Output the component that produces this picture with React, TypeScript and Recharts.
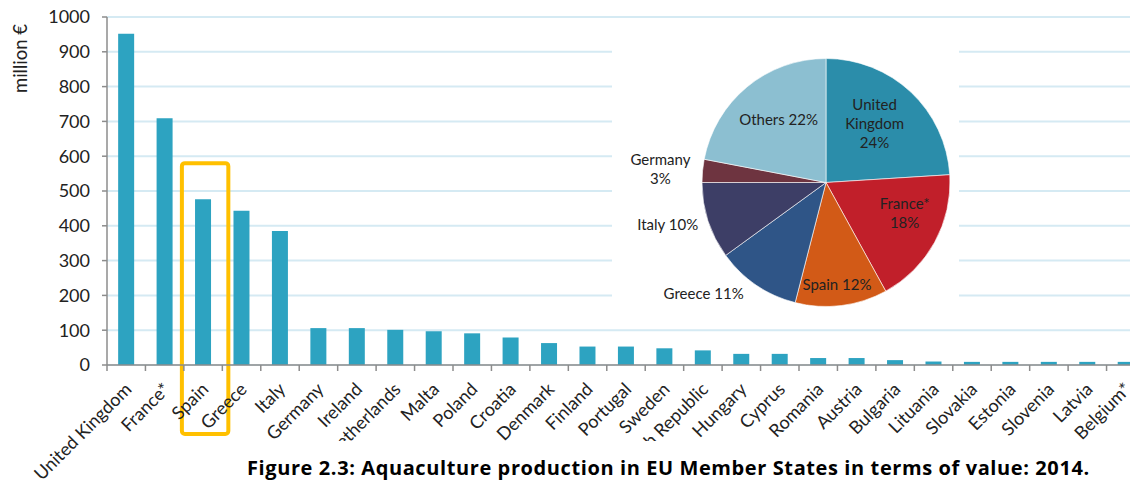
import { BarChart, Bar, XAxis, YAxis, CartesianGrid, ReferenceArea, PieChart, Pie, Cell } from 'recharts'

const countries = [
  'United Kingdom', 'France*', 'Spain', 'Greece', 'Italy', 'Germany', 'Ireland',
  'Netherlands', 'Malta', 'Poland', 'Croatia', 'Denmark', 'Finland', 'Portugal',
  'Sweden', 'Czech Republic', 'Hungary', 'Cyprus', 'Romania', 'Austria', 'Bulgaria',
  'Lituania', 'Slovakia', 'Estonia', 'Slovenia', 'Latvia', 'Belgium*'
]
const values = [
  952, 709, 476, 443, 385, 106, 106, 101, 97, 91, 79, 63, 53, 53,
  48, 42, 32, 32, 20, 20, 14, 10, 9, 9, 9, 9, 9
]
const yTicks = [0, 100, 200, 300, 400, 500, 600, 700, 800, 900, 1000]

const pieNames = ['United Kingdom', 'France*', 'Spain', 'Greece', 'Italy', 'Germany', 'Others']
const pieShares = [24, 18, 12, 11, 10, 3, 22]

const PIE_COLORS = ['#2B8DAA', '#C11F2A', '#D25A17', '#2F5587', '#3D3E66', '#6E3440', '#8CBFD1']
// per slice: label radius (x outerRadius), angle tweak (deg), percent on its own line
const PIE_LABEL = [
  { r: 0.62, da: 4, br: true, lines: ['United', 'Kingdom'] },
  { r: 0.68, da: 7.6, br: true, lines: ['France*'] },
  { r: 0.82, da: -1, br: false, lines: ['Spain'] },
  { r: 1.33, da: -13.7, br: false, lines: ['Greece'] },
  { r: 1.32, da: -3.3, br: false, lines: ['Italy'] },
  { r: 1.34, da: 0.4, br: true, lines: ['Germany'] },
  { r: 0.64, da: -2.9, br: false, lines: ['Others'] },
]

const barData = countries.map((name, i) => ({ name, value: values[i] }))
const pieData = pieNames.map((name, i) => ({ name, value: pieShares[i] }))

const FONT = 'Lato, "Open Sans", sans-serif'
const AXIS = '#8c8c8c'

const CountryTick = ({ x, y, payload }: any) => {
  const half = payload.offset ?? 0
  const ax = x + 2
  const ay = y + 21
  return (
    <g>
      <line x1={x - half} x2={x - half} y1={y} y2={y + 6} stroke={AXIS} strokeWidth={1.5} />
      <text
        x={ax}
        y={ay}
        textAnchor="end"
        dy="0.35em"
        transform={`rotate(-45 ${ax} ${ay})`}
        fontSize={18}
        fontFamily={FONT}
        fill="#222"
      >
        {payload.value}
      </text>
    </g>
  )
}

const renderPieLabel = (props: any) => {
  const { cx, cy, midAngle, outerRadius, index, value } = props
  const cfg = PIE_LABEL[index]
  const a = ((midAngle + cfg.da) * Math.PI) / 180
  const lx = cx + outerRadius * cfg.r * Math.cos(-a)
  const ly = cy + outerRadius * cfg.r * Math.sin(-a)
  const lines = cfg.br ? [...cfg.lines, `${value}%`] : [...cfg.lines.slice(0, -1), `${cfg.lines[cfg.lines.length - 1]} ${value}%`]
  const lh = 19
  const y0 = ly - ((lines.length - 1) * lh) / 2
  return (
    <text x={lx} y={y0} textAnchor="middle" dominantBaseline="central" fontSize={15} fontFamily={FONT} fill="#222">
      {lines.map((t, i) => (
        <tspan key={i} x={lx} y={y0 + i * lh}>{t}</tspan>
      ))}
    </text>
  )
}

const HighlightBox = (p: any) => (
  <rect
    x={p.x - 2}
    y={p.y}
    width={p.width + 8}
    height={p.height}
    rx={3}
    fill="none"
    stroke="#FFC000"
    strokeWidth={4}
  />
)

export default function App() {
  return (
    <div style={{ position: 'fixed', left: 0, top: 0, width: 1130, height: 481, overflow: 'hidden', background: '#fff', fontFamily: FONT }}>
      <BarChart width={1147} height={481} data={barData} margin={{ top: 17, right: 2, left: 0, bottom: 6 }} barCategoryGap="29%">
        <CartesianGrid vertical={false} stroke="#d5eaf3" strokeWidth={2} />
        <YAxis
          domain={[0, 1000]}
          ticks={yTicks}
          width={107}
          tickSize={5}
          tickMargin={12}
          stroke={AXIS}
          strokeWidth={1.5}
          tick={{ fontSize: 18, fill: '#222', fontFamily: FONT }}
          label={{
            content: ({ viewBox }: any) => (
              <text
                transform={`translate(${viewBox.x + 20} ${viewBox.y + 41.5}) rotate(-90)`}
                textAnchor="middle"
                dominantBaseline="central"
                fontSize={18.5}
                fontFamily={FONT}
                fill="#222"
              >
                million €
              </text>
            ),
          }}
        />
        <XAxis
          dataKey="name"
          interval={0}
          height={110}
          tickLine={false}
          tickSize={0}
          tickMargin={0}
          stroke={AXIS}
          strokeWidth={1.5}
          tick={<CountryTick />}
        />
        <Bar dataKey="value" fill="#2DA3C1" isAnimationActive={false} />
        <ReferenceArea x1="Spain" x2="Spain" y1={-198} y2={580} ifOverflow="visible" shape={HighlightBox} />
      </BarChart>

      <div style={{ position: 'absolute', left: 612, top: 25, width: 347, height: 295, background: '#fff' }}>
        <PieChart width={347} height={295} margin={{ top: 0, right: 0, bottom: 0, left: 0 }}>
          <Pie
            data={pieData}
            dataKey="value"
            cx={214}
            cy={157.5}
            outerRadius={124}
            startAngle={90}
            endAngle={-270}
            stroke="#ffffff"
            strokeWidth={0.6}
            labelLine={false}
            label={renderPieLabel}
            isAnimationActive={false}
          >
            {pieData.map((entry, i) => (
              <Cell key={entry.name} fill={PIE_COLORS[i]} />
            ))}
          </Pie>
        </PieChart>
      </div>

      <div style={{ position: 'absolute', left: 240, top: 441, width: 890, height: 40, background: '#fff' }}>
        <span style={{ position: 'absolute', left: 7, top: 16, fontFamily: '"Open Sans", sans-serif', fontSize: 20, letterSpacing: '0.6px', fontWeight: 700, color: '#000', whiteSpace: 'nowrap', lineHeight: '22px' }}>
          Figure 2.3: Aquaculture production in EU Member States in terms of value: 2014.
        </span>
      </div>
    </div>
  )
}
